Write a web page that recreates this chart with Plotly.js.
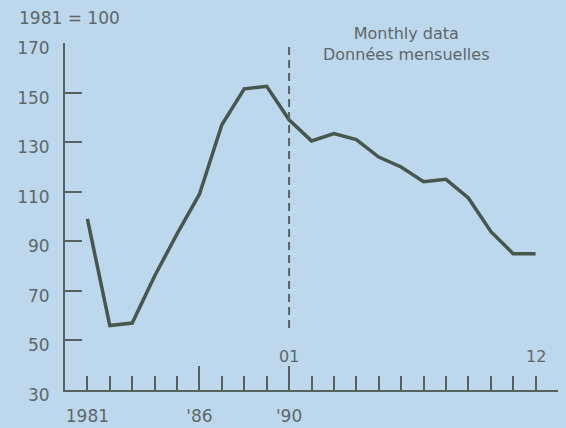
<!DOCTYPE html>
<html>
<head>
<meta charset="utf-8">
<script src="https://cdn.plot.ly/plotly-3.0.1.min.js"></script>
<style>
  html, body { margin: 0; padding: 0; background: #bdd7ec; }
  #chart { width: 566px; height: 428px; }
</style>
</head>
<body>
<div id="chart"></div>
<script>
// Annual data 1981-1989, then monthly data (01-12) of 1990
const annualYears = ['1981', '1982', '1983', '1984', '1985', '1986', '1987', '1988', '1989'];
const annualValues = [99, 56, 57, 76, 93, 109, 137, 151.5, 152.5];
const months = ['01', '02', '03', '04', '05', '06', '07', '08', '09', '10', '11', '12'];
const monthlyValues = [139, 130.5, 133.5, 131, 124, 120, 114, 115, 107.5, 94, 85, 85];

const bottomTickLabels = ['1981', '', '', '', '', "'86", '', '', '', "'90", '', '', '', '', '', '', '', '', '', '', ''];
const yTicks = [30, 50, 70, 90, 110, 130, 150, 170];
const majorTickIdx = [5, 9];
const topLabels = ['01', '12'];
const topLabelIdx = [9, 20];
const splitIdx = 9;
const indexNote = '1981 = 100';
const monthlyNote = 'Monthly data<br>Données mensuelles';

const categories = annualYears.concat(months);
const values = annualValues.concat(monthlyValues);
const xIdx = categories.map((_, i) => i);

const bg = '#bdd7ec';
const axisCol = '#56625f';
const textCol = '#5d676a';
const lineCol = '#47574e';
const fontFam = 'DejaVu Sans, Arial, sans-serif';

const trace = {
  x: xIdx,
  y: values,
  type: 'scatter',
  mode: 'lines',
  line: { color: lineCol, width: 3.5 },
  hoverinfo: 'skip'
};

const annotations = [
  {
    text: indexNote, xref: 'paper', yref: 'paper', x: -0.097, y: 1.073,
    xanchor: 'left', yanchor: 'middle', showarrow: false,
    font: { family: fontFam, size: 17, color: textCol }
  },
  {
    text: monthlyNote, xref: 'paper', yref: 'paper', x: 0.692, y: 0.997,
    xanchor: 'center', yanchor: 'middle', showarrow: false,
    font: { family: fontFam, size: 16, color: textCol }
  }
].concat(topLabels.map((t, k) => ({
  text: t, xref: 'x', yref: 'y', x: topLabelIdx[k], y: 30,
  xanchor: 'center', yanchor: 'bottom', yshift: 22, showarrow: false,
  font: { family: fontFam, size: 16, color: textCol }
})));

const layout = {
  width: 566,
  height: 428,
  paper_bgcolor: bg,
  plot_bgcolor: bg,
  margin: { l: 65, r: 8, t: 43, b: 38 },
  showlegend: false,
  font: { family: fontFam, size: 17, color: textCol },
  xaxis: {
    range: [-1, 21],
    showgrid: false, zeroline: false,
    showline: true, linecolor: axisCol, linewidth: 2,
    ticks: 'inside', ticklen: 14, tickwidth: 2, tickcolor: axisCol,
    tickmode: 'array', tickvals: xIdx, ticktext: bottomTickLabels,
    tickfont: { family: fontFam, size: 17, color: textCol },
    ticklabelstandoff: 10,
    fixedrange: true
  },
  xaxis2: {
    overlaying: 'x', anchor: 'y', side: 'bottom',
    range: [-1, 21],
    showgrid: false, zeroline: false, showline: false,
    ticks: 'inside', ticklen: 24, tickwidth: 2, tickcolor: axisCol,
    tickmode: 'array', tickvals: majorTickIdx, showticklabels: false,
    fixedrange: true
  },
  yaxis: {
    range: [30, 170],
    showgrid: false, zeroline: false,
    showline: true, linecolor: axisCol, linewidth: 2,
    ticks: 'inside', ticklen: 17, tickwidth: 2, tickcolor: axisCol,
    tickmode: 'array', tickvals: yTicks,
    tickfont: { family: fontFam, size: 17, color: textCol },
    ticklabelstandoff: 10,
    ticklabelshift: 5,
    fixedrange: true
  },
  shapes: [{
    type: 'line', xref: 'x', yref: 'y',
    x0: splitIdx, x1: splitIdx, y0: 55, y1: 170,
    line: { color: axisCol, width: 2, dash: '8px,5px' }
  }],
  annotations: annotations
};

const dummy = { x: [0], y: [30], xaxis: 'x2', yaxis: 'y', mode: 'markers', marker: { opacity: 0 }, hoverinfo: 'skip' };

Plotly.newPlot('chart', [trace, dummy], layout, { staticPlot: true, displayModeBar: false });
</script>
</body>
</html>
